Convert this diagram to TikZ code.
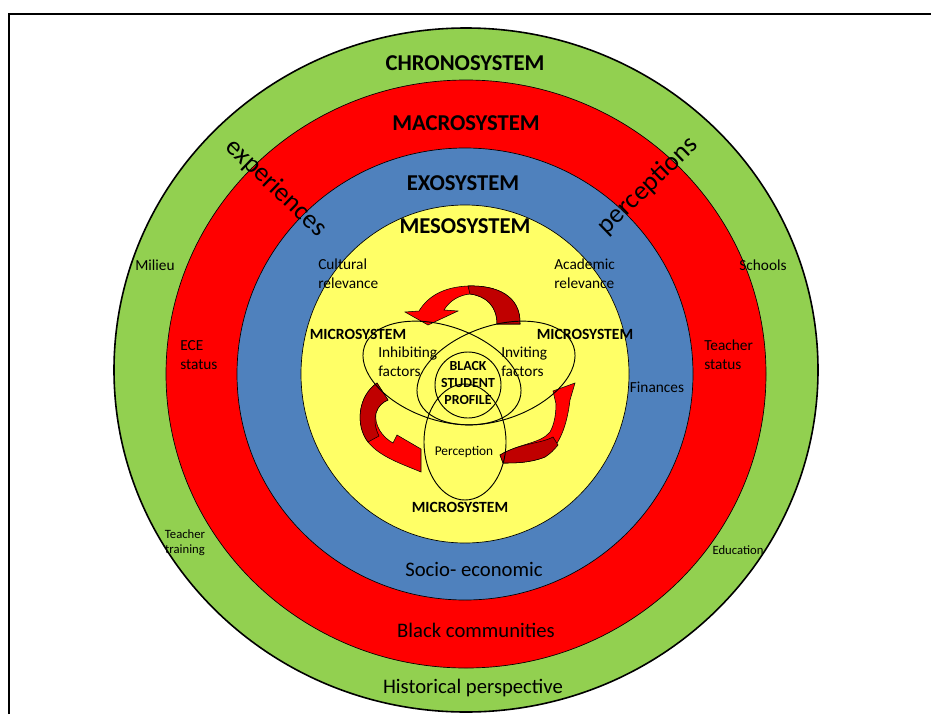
\documentclass[tikz,border=0pt]{standalone}
\usepackage{fontspec}
\setmainfont{Carlito}
\usepackage{tikz}

\begin{document}
\begin{tikzpicture}[x=0.75pt,y=0.75pt,yscale=-1,xscale=1,
  syslbl/.style={inner sep=0.75pt, font=\fontsize{17}{20}\selectfont\bfseries},
  microlbl/.style={inner sep=0.75pt, font=\fontsize{11.7}{14}\selectfont\bfseries},
  txtlbl/.style={inner sep=0.75pt, font=\fontsize{11.5}{14.3}\selectfont, align=left},
  tinylbl/.style={inner sep=0.75pt, font=\fontsize{9.5}{11.3}\selectfont, align=center},
  widelbl/.style={inner sep=0.75pt, font=\fontsize{15.5}{18}\selectfont},
  curvelbl/.style={inner sep=0.75pt, font=\fontsize{20}{24}\selectfont},
  ring/.style={draw={rgb, 255:red, 0; green, 0; blue, 0 }, line width=0.5},
  arrowlight/.style={fill={rgb, 255:red, 255; green, 0; blue, 0 }, draw={rgb, 255:red, 0; green, 0; blue, 0 }, line width=0.4},
  arrowdark/.style={fill={rgb, 255:red, 192; green, 0; blue, 0 }, draw={rgb, 255:red, 0; green, 0; blue, 0 }, line width=0.4}
]
\useasboundingbox (0,0) rectangle (931,714);

%Straight Lines
\draw [line width=1.5]   (9,714) -- (9,14) -- (931,14) ;

%Shape: Ellipse
\draw [ring, line width=1.2, fill={rgb, 255:red, 146; green, 208; blue, 80 }]  (466,370) ellipse (352 and 342) ;
%Shape: Ellipse
\draw [ring, fill={rgb, 255:red, 255; green, 0; blue, 0 }]  (466,374) ellipse (300 and 294) ;
%Shape: Ellipse
\draw [ring, fill={rgb, 255:red, 79; green, 129; blue, 189 }]  (465,374) ellipse (228 and 226) ;
%Shape: Ellipse
\draw [ring, fill={rgb, 255:red, 255; green, 255; blue, 102 }]  (465,374) ellipse (164 and 169) ;

%Curved Arrow (top)
\draw [arrowlight]  (520,324) .. controls (521,296) and (497,285) .. (468,286) .. controls (444,287) and (428,296) .. (419,311) -- (405,312) -- (428,325) -- (458,311) -- (444,310) .. controls (450,300) and (460,295) .. (470,294) .. controls (486,296) and (497,306) .. (497,324) -- cycle ;
\draw [arrowdark]  (468,286) .. controls (497,285) and (521,296) .. (520,324) -- (497,324) .. controls (497,306) and (486,296) .. (470,294) -- cycle ;
%Curved Arrow (left)
\draw [arrowlight]  (377,383) .. controls (358,396) and (355,425) .. (368,442) .. controls (380,457) and (402,464) .. (421,472) -- (421,449) -- (397,435) -- (393,443) .. controls (382,437) and (374,425) .. (376,413) .. controls (378,406) and (383,402) .. (388,400) -- cycle ;
\draw [arrowdark]  (377,383) .. controls (358,396) and (355,425) .. (368,442) -- (379,436) .. controls (375,428) and (374,420) .. (376,413) .. controls (378,406) and (383,402) .. (388,400) -- cycle ;
%Curved Arrow (right)
\draw [arrowlight]  (500,455) .. controls (520,443) and (540,444) .. (550,432) .. controls (554,425) and (556,415) .. (556,404) -- (553,391) -- (575,383) -- (570,400) .. controls (567,425) and (560,445) .. (545,457) .. controls (530,463) and (515,463) .. (503,463) -- cycle ;
\draw [arrowdark]  (500,455) .. controls (520,443) and (540,444) .. (553,437) -- (558,445) .. controls (554,450) and (550,454) .. (545,457) .. controls (530,463) and (515,463) .. (503,463) -- cycle ;

%Shape: Ellipse
\draw [line width=0.7, rotate around={19:(442,373)}]  (442,373) ellipse (82 and 47) ;
%Shape: Ellipse
\draw [line width=0.7, rotate around={-19:(496,373)}]  (496,373) ellipse (82 and 47) ;
%Shape: Ellipse
\draw [line width=0.7]  (465,442) ellipse (41 and 58) ;
%Shape: Circle
\draw [line width=0.7]  (468,385) ellipse (33 and 33) ;

% Text Node
\draw (465,63) node (chrono) [syslbl]  {CHRONOSYSTEM};
% Text Node
\draw (466,123) node (macro) [syslbl]  {MACROSYSTEM};
% Text Node
\draw (463,183) node (exo) [syslbl]  {EXOSYSTEM};
% Text Node
\draw (465,226) node (meso) [syslbl]  {MESOSYSTEM};
% Text Node
\draw (276,188) node (exper) [curvelbl, rotate=-44]  {experiences};
% Text Node
\draw (648,186) node (percep) [curvelbl, rotate=44]  {perceptions};
% Text Node
\draw (155,265) node (milieu) [txtlbl]  {Milieu};
% Text Node
\draw (763,265) node (schools) [txtlbl]  {Schools};
% Text Node
\draw (179,355) node (ece) [txtlbl, anchor=west]  {ECE\\status};
% Text Node
\draw (703,355) node (tstatus) [txtlbl, anchor=west]  {Teacher\\status};
% Text Node
\draw (317,274) node (cultural) [txtlbl, anchor=west]  {Cultural\\relevance};
% Text Node
\draw (553,274) node (academic) [txtlbl, anchor=west]  {Academic\\relevance};
% Text Node
\draw (657,387) node (finance) [txtlbl]  {Finances};
% Text Node
\draw (358,334) node (microl) [microlbl]  {MICROSYSTEM};
% Text Node
\draw (585,334) node (micror) [microlbl]  {MICROSYSTEM};
% Text Node
\draw (460,507) node (microb) [microlbl]  {MICROSYSTEM};
% Text Node
\draw (377,362) node (inhib) [txtlbl, anchor=west]  {Inhibiting\\factors};
% Text Node
\draw (500,362) node (invit) [txtlbl, anchor=west]  {Inviting\\factors};
% Text Node
\draw (468,383) node (profile) [inner sep=0.75pt, font=\fontsize{10.4}{12.4}\selectfont\bfseries, align=center]  {BLACK\\STUDENT\\PROFILE};
% Text Node
\draw (464,452) node (percept) [inner sep=0.75pt, font=\fontsize{10}{12}\selectfont]  {Perception};
% Text Node
\draw (185,543) node (ttrain) [tinylbl]  {Teacher\\training};
% Text Node
\draw (738,550) node (educ) [tinylbl]  {Education};
% Text Node
\draw (474,569) node (socio) [widelbl]  {Socio- economic};
% Text Node
\draw (476,630) node (blackc) [widelbl]  {Black communities};
% Text Node
\draw (473,688) node (hist) [widelbl]  {Historical perspective};

\end{tikzpicture}
\end{document}
